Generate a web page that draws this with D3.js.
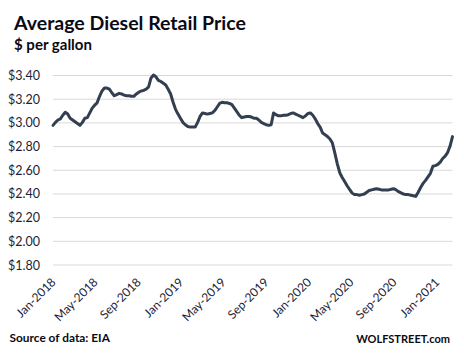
<!DOCTYPE html>
<html>
<head>
<meta charset="utf-8">
<script src="https://cdn.jsdelivr.net/npm/d3@7"></script>
<style>
  html, body { margin: 0; padding: 0; background: #fff; }
  svg { display: block; }
</style>
</head>
<body>
<svg id="chart" width="464" height="355"></svg>
<script>
// ---- Data (weekly, starting Monday 2018-01-01) ----
const firstWeek = "2018-01-01";
const prices2018 = [2.975, 3.00, 3.02, 3.03, 3.06, 3.085, 3.07, 3.035, 3.02, 3.005, 2.99, 2.975,
  3.00, 3.035, 3.04, 3.08, 3.12, 3.145, 3.165, 3.22, 3.265, 3.29, 3.29, 3.28, 3.25, 3.225,
  3.235, 3.245, 3.24, 3.23, 3.225, 3.225, 3.22, 3.22, 3.24, 3.255, 3.265, 3.27, 3.28, 3.30,
  3.375, 3.40, 3.385, 3.355, 3.345, 3.33, 3.315, 3.28, 3.24, 3.17, 3.11, 3.07, 3.035];
const prices2019 = [3.00, 2.98, 2.965, 2.96, 2.96, 2.96, 3.00, 3.05, 3.08, 3.075, 3.07, 3.075,
  3.08, 3.10, 3.13, 3.16, 3.17, 3.165, 3.165, 3.16, 3.15, 3.12, 3.09, 3.06, 3.04, 3.045,
  3.05, 3.05, 3.045, 3.035, 3.035, 3.02, 3.00, 2.99, 2.98, 2.975, 2.98, 3.08, 3.065, 3.055,
  3.055, 3.06, 3.06, 3.065, 3.075, 3.08, 3.07, 3.06, 3.05, 3.04, 3.055, 3.075];
const prices2020 = [3.08, 3.06, 3.03, 2.99, 2.96, 2.91, 2.895, 2.88, 2.86, 2.825, 2.74, 2.65,
  2.575, 2.535, 2.50, 2.465, 2.435, 2.405, 2.39, 2.39, 2.385, 2.39, 2.395, 2.41, 2.425, 2.43,
  2.435, 2.44, 2.435, 2.43, 2.43, 2.43, 2.43, 2.435, 2.44, 2.43, 2.415, 2.405, 2.395, 2.39,
  2.39, 2.385, 2.38, 2.375, 2.41, 2.45, 2.485, 2.51, 2.54, 2.57, 2.63, 2.635];
const prices2021 = [2.645, 2.665, 2.695, 2.715, 2.745, 2.80, 2.88];

const yTickValues = [1.80, 2.00, 2.20, 2.40, 2.60, 2.80, 3.00, 3.20, 3.40];
const xTickLabels = ["2018-01-01", "2018-05-01", "2018-09-01", "2019-01-01", "2019-05-01",
  "2019-09-01", "2020-01-01", "2020-05-01", "2020-09-01", "2021-01-01"];

const titleText = "Average Diesel Retail Price";
const subtitleText = "$ per gallon";
const sourceText = "Source of data: EIA";
const brandText = "WOLFSTREET.com";

// ---- Build series ----
const parse = d3.timeParse("%Y-%m-%d");
const values = [].concat(prices2018, prices2019, prices2020, prices2021);
const startDate = parse(firstWeek);
const series = values.map((v, i) => ({ date: d3.timeDay.offset(startDate, 7 * i), value: v }));
const xTicks = xTickLabels.map(parse);

// ---- Layout ----
const svg = d3.select("#chart");
const plotLeft = 53, plotRight = 452.5, plotTop = 75, plotBottom = 264.5;
const font = "Lato, 'Open Sans', sans-serif";

const x = d3.scaleTime()
  .domain([series[0].date, series[series.length - 1].date])
  .range([plotLeft, plotRight]);
const y = d3.scaleLinear().domain([1.8, 3.4]).range([plotBottom, plotTop]);

// Y axis with gridlines
const yAxis = svg.append("g")
  .attr("transform", `translate(${plotLeft},0)`)
  .call(d3.axisLeft(y)
    .tickValues(yTickValues)
    .tickSize(-(plotRight - plotLeft))
    .tickPadding(13)
    .tickFormat(d => "$" + d3.format(".2f")(d)));
yAxis.select(".domain").remove();
yAxis.selectAll(".tick line").attr("stroke", "#d9d9d9").attr("stroke-width", 1);
yAxis.selectAll(".tick text")
  .attr("font-family", font)
  .attr("font-size", 12.5)
  .attr("fill", "#1e1e36")
  .attr("dy", "0.36em");

// X axis labels (rotated)
const xAxis = svg.append("g")
  .attr("transform", `translate(0,${plotBottom})`)
  .call(d3.axisBottom(x)
    .tickValues(xTicks)
    .tickSize(0)
    .tickFormat(d3.timeFormat("%b-%Y")));
xAxis.select(".domain").remove();
xAxis.selectAll(".tick text")
  .attr("font-family", font)
  .attr("font-size", 12)
  .attr("fill", "#1e1e36")
  .attr("text-anchor", "end")
  .attr("x", 0).attr("y", 0).attr("dy", 0)
  .attr("transform", "translate(3,18.5) rotate(-45)");

// Line
const line = d3.line()
  .x(d => x(d.date))
  .y(d => y(d.value));
svg.append("path")
  .datum(series)
  .attr("fill", "none")
  .attr("stroke", "#333f50")
  .attr("stroke-width", 3)
  .attr("stroke-linejoin", "round")
  .attr("stroke-linecap", "round")
  .attr("d", line);

// Texts, fitted to measured widths
function fitText(txt, xPos, yPos, targetWidth, baseSize, anchor) {
  const t = svg.append("text")
    .attr("x", xPos).attr("y", yPos)
    .attr("font-family", font)
    .attr("font-weight", "bold")
    .attr("font-size", baseSize)
    .attr("fill", "#0a0a14")
    .attr("text-anchor", anchor || "start")
    .text(txt);
  const w = t.node().getComputedTextLength();
  if (w > 0) t.attr("font-size", baseSize * targetWidth / w);
  return t;
}
fitText(titleText, 14, 30, 232, 18);
fitText(subtitleText, 14, 50, 78, 14);
fitText(sourceText, 9.5, 341.5, 100.5, 11);
fitText(brandText, 450, 342.5, 94, 11.5, "end");
</script>
</body>
</html>
